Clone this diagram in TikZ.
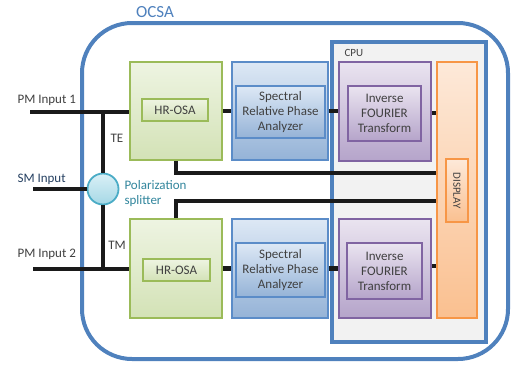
\documentclass[tikz,border=0pt]{standalone}
\usepackage{fontspec}
\setmainfont{Carlito}
\definecolor{ocblue}{HTML}{4F81BD}
\definecolor{cpufill}{HTML}{F2F2F2}
\definecolor{grnline}{HTML}{9BBB59}
\definecolor{grntop}{HTML}{EEF4E2}
\definecolor{grnbot}{HTML}{D3E2B6}
\definecolor{bluline}{HTML}{5B8CC8}
\definecolor{blutop}{HTML}{DDE8F5}
\definecolor{blubot}{HTML}{95B3D7}
\definecolor{purline}{HTML}{8064A2}
\definecolor{purtop}{HTML}{EAE4F0}
\definecolor{purbot}{HTML}{B5A4CA}
\definecolor{orgline}{HTML}{F79646}
\definecolor{orgtop}{HTML}{FDE9D9}
\definecolor{orgbot}{HTML}{FAC090}
\definecolor{cyline}{HTML}{4BACC6}
\definecolor{cytop}{HTML}{DAF0F6}
\definecolor{cybot}{HTML}{A5D8E6}
\definecolor{txt}{HTML}{404040}
\definecolor{smtxt}{HTML}{254061}
\definecolor{teal}{HTML}{31859C}
\definecolor{wire}{HTML}{1A1A1A}
\begin{document}
\begin{tikzpicture}[x=1pt,y=-1pt,
  box/.style={rectangle,inner sep=0pt,line width=1.8pt},
  grnbox/.style={box,draw=grnline,top color=grntop,bottom color=grnbot},
  blubox/.style={box,draw=bluline,top color=blutop,bottom color=blubot},
  purbox/.style={box,draw=purline,top color=purtop,bottom color=purbot},
  orgbox/.style={box,draw=orgline,top color=orgtop,bottom color=orgbot},
  lbl/.style={text=txt,font=\fontsize{13}{15}\selectfont,align=center},
  wirein/.style={draw=wire,line width=4.8pt},
  wired/.style={draw=wire,line width=3.6pt},
]
\useasboundingbox (0,0) rectangle (521,364);
% OCSA frame
\draw[ocblue,line width=4pt,rounded corners=50pt] (82,23) rectangle (508,359);
\node[text=ocblue,font=\fontsize{17}{20}\selectfont] (ocsa) at (155,12) {OCSA};
% CPU
\node[box,draw=ocblue,fill=cpufill,line width=3.5pt,minimum width=154pt,minimum height=300pt] (cpu) at (409,192) {};
\node[text=txt,font=\fontsize{11}{13}\selectfont,anchor=west] (cpul) at (341,53) {CPU};
% green HR-OSA
\node[grnbox,minimum width=92pt,minimum height=98pt] (g1) at (176,111) {};
\node[grnbox,minimum width=66pt,minimum height=22pt,lbl] (h1) at (175,110) {HR-OSA};
\node[grnbox,minimum width=92pt,minimum height=99pt] (g2) at (176,268.5) {};
\node[grnbox,minimum width=67pt,minimum height=22pt,lbl] (h2) at (176.5,270) {HR-OSA};
% blue SRPA
\node[blubox,minimum width=96pt,minimum height=98pt] (s1) at (280,111) {};
\node[blubox,minimum width=89pt,minimum height=52pt,lbl] (r1) at (280.5,112) {Spectral\\Relative Phase\\Analyzer};
\node[blubox,minimum width=96pt,minimum height=99pt] (s2) at (280,268.5) {};
\node[blubox,minimum width=89pt,minimum height=54pt,lbl] (r2) at (280.5,270) {Spectral\\Relative Phase\\Analyzer};
% purple IFT
\node[purbox,minimum width=92pt,minimum height=99pt] (f1) at (385,111.5) {};
\node[purbox,minimum width=73pt,minimum height=55pt,lbl] (i1) at (384.5,113.5) {Inverse\\FOURIER\\Transform};
\node[purbox,minimum width=92pt,minimum height=99pt] (f2) at (385,268.5) {};
\node[purbox,minimum width=75pt,minimum height=56pt,lbl] (i2) at (384.5,271) {Inverse\\FOURIER\\Transform};
% display
\node[orgbox,minimum width=40pt,minimum height=256pt] (disp) at (457,190) {};
\node[orgbox,minimum width=22pt,minimum height=63pt] (dispin) at (457,190.5) {};
\node[text=txt,font=\fontsize{11}{13}\selectfont,rotate=-90] (displ) at (457,190.5) {DISPLAY};
% splitter
\node[circle,draw=cyline,line width=1.8pt,top color=cytop,bottom color=cybot,minimum size=31pt,inner sep=0pt] (split) at (103,189) {};
\node[text=teal,font=\fontsize{13}{15}\selectfont,align=left,anchor=west] (splitl) at (121,193.5) {Polarization\\splitter};
% inputs
\coordinate (pm1) at (30,112);
\coordinate (sm) at (33,189);
\coordinate (pm2) at (33,269);
\coordinate (c1) at (0,173);
\coordinate (c2) at (0,201);
\node[lbl,anchor=west] (pm1l) at (14,100) {PM Input 1};
\node[text=smtxt,font=\fontsize{13}{15}\selectfont,anchor=west] (sml) at (14,179) {SM Input};
\node[lbl,anchor=west] (pm2l) at (14,254) {PM Input 2};
\node[lbl] (te) at (117,138) {TE};
\node[lbl] (tm) at (117,245) {TM};
% wires
\draw[wirein] (pm1) -- (g1.west |- pm1);
\draw[wirein] (split.north) -- (split.north |- pm1);
\draw[wirein] (sm) -- (split.west);
\draw[wirein] (split.south) -- (split.south |- pm2);
\draw[wirein] (pm2) -- (g2.west |- pm2);
\draw[wirein] (g1.east) -- (s1.west);
\draw[wirein] (g2.east) -- (s2.west);
\draw[wirein] (s1.east) -- (f1.west |- s1.east);
\draw[wirein] (s2.east) -- (f2.west |- s2.east);
\draw[wirein] (f1.east |- 0,113) -- (disp.west |- 0,113);
\draw[wirein] (f2.east |- 0,266) -- (disp.west |- 0,266);
\draw[wired] (g1.south) |- (disp.west |- c1);
\draw[wired] (g2.north) |- (disp.west |- c2);
\end{tikzpicture}
\end{document}
